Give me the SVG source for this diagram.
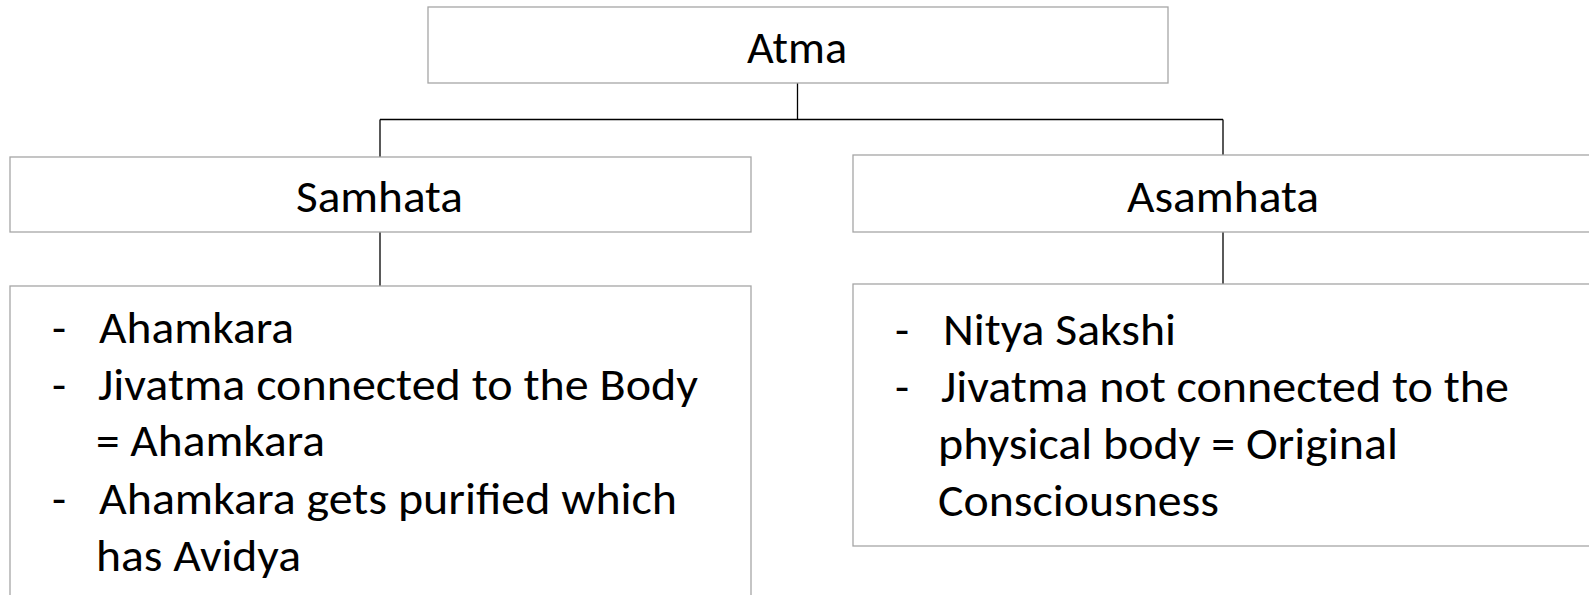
<svg xmlns="http://www.w3.org/2000/svg" width="1589" height="595" viewBox="0 0 1589 595">
<style>
.box{fill:#fff;stroke:#a6a6a6;stroke-width:1.3}
.conn{fill:none;stroke:#000;stroke-width:1.3}
text{font-family:Carlito,"Open Sans","Liberation Sans",sans-serif;font-size:46px;fill:#000}
.t{text-anchor:middle}
</style>
<rect x="0" y="0" width="1589" height="595" fill="#fff"/>
<g id="connectors">
<path class="conn" d="M797.5,83 V119.5 M380,119.5 H1223 M380,119.5 V157 M1223,119.5 V155"/>
<path class="conn" d="M380,232 V286"/>
<path class="conn" d="M1223,232 V284"/>
</g>
<g id="atma">
<rect class="box" x="428" y="7" width="740" height="76"/>
<text class="t" x="797" y="63" textLength="100" lengthAdjust="spacingAndGlyphs">Atma</text>
</g>
<g id="samhata">
<rect class="box" x="10" y="157" width="741" height="75"/>
<text class="t" x="379.5" y="212" textLength="167" lengthAdjust="spacingAndGlyphs">Samhata</text>
</g>
<g id="asamhata">
<rect class="box" x="853" y="155" width="750" height="77"/>
<text class="t" x="1223" y="212" textLength="192" lengthAdjust="spacingAndGlyphs">Asamhata</text>
</g>
<g id="samhata-details">
<rect class="box" x="10" y="286" width="741" height="320"/>
<text x="52" y="342.5">-</text>
<text x="99" y="342.5" textLength="195" lengthAdjust="spacingAndGlyphs">Ahamkara</text>
<text x="52" y="400">-</text>
<text x="98" y="400" textLength="600" lengthAdjust="spacingAndGlyphs">Jivatma connected to the Body</text>
<text x="96" y="456" textLength="229" lengthAdjust="spacingAndGlyphs">= Ahamkara</text>
<text x="52" y="514">-</text>
<text x="99" y="514" textLength="578" lengthAdjust="spacingAndGlyphs">Ahamkara gets purified which</text>
<text x="96" y="570.5" textLength="205" lengthAdjust="spacingAndGlyphs">has Avidya</text>
</g>
<g id="asamhata-details">
<rect class="box" x="853" y="284" width="750" height="262"/>
<text x="895" y="344.5">-</text>
<text x="943" y="344.5" textLength="233" lengthAdjust="spacingAndGlyphs">Nitya Sakshi</text>
<text x="895" y="402">-</text>
<text x="941" y="402" textLength="568" lengthAdjust="spacingAndGlyphs">Jivatma not connected to the</text>
<text x="938" y="459" textLength="460" lengthAdjust="spacingAndGlyphs">physical body = Original</text>
<text x="938" y="516" textLength="281" lengthAdjust="spacingAndGlyphs">Consciousness</text>
</g>
</svg>
